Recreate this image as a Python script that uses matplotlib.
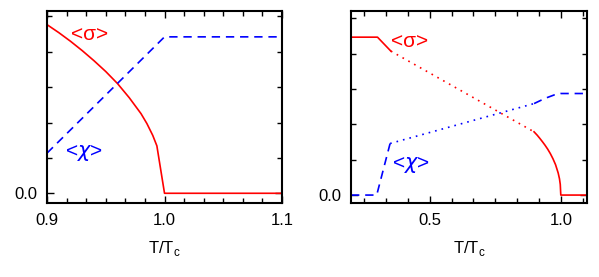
import matplotlib
matplotlib.use('Agg')
import matplotlib.pyplot as plt
from matplotlib.ticker import MultipleLocator, FixedLocator

plt.rcParams['font.family'] = ['Liberation Sans', 'DejaVu Sans']
plt.rcParams['mathtext.fontset'] = 'custom'
plt.rcParams['mathtext.rm'] = 'Liberation Sans'
plt.rcParams['mathtext.it'] = 'DejaVu Sans:italic'

RED = '#ff0000'
BLUE = '#0000ff'

# ---- left panel: near Tc ----
left_sigma_T = [0.9, 0.91, 0.92, 0.93, 0.94, 0.95, 0.96, 0.97, 0.98,
                0.985, 0.99, 0.9935, 1.0, 1.1]
left_sigma = [0.953, 0.908, 0.859, 0.806, 0.749, 0.688, 0.620, 0.540,
              0.450, 0.394, 0.327, 0.268, 0.0, 0.0]
left_chi_T = [0.9, 1.0, 1.1]
left_chi = [0.227, 0.884, 0.884]

# ---- right panel: full range ----
# sigma: solid plateau, dotted middle, solid near Tc
r_sigma_lo_T = [0.2, 0.301, 0.352]
r_sigma_lo = [0.894, 0.894, 0.815]
r_sigma_mid_T = [0.352, 0.898]
r_sigma_mid = [0.815, 0.358]
r_sigma_hi_T = [0.898, 0.91, 0.92, 0.93, 0.94, 0.95, 0.96, 0.97, 0.98,
                0.99, 0.995, 0.998, 1.0, 1.1]
r_sigma_hi = [0.358, 0.339, 0.321, 0.302, 0.282, 0.260, 0.235, 0.206,
              0.172, 0.125, 0.092, 0.060, 0.0, 0.0]
# chi: dashed low part, dotted middle, dashed near Tc
r_chi_lo_T = [0.2, 0.298, 0.349]
r_chi_lo = [0.0, 0.0, 0.292]
r_chi_mid_T = [0.349, 0.898]
r_chi_mid = [0.292, 0.518]
r_chi_hi_T = [0.898, 0.925, 0.948, 0.975, 1.0, 1.1]
r_chi_hi = [0.518, 0.537, 0.552, 0.567, 0.575, 0.575]

fig = plt.figure(figsize=(5.99, 2.77), dpi=100)
ax1 = fig.add_axes([0.0785, 0.2671, 0.3923, 0.6931])
ax2 = fig.add_axes([0.586, 0.2671, 0.394, 0.6931])

lw = 1.2
dash = (5, 3.5)
dot = (1, 3)
ax1.plot(left_sigma_T, left_sigma, color=RED, lw=lw)
ax1.plot(left_chi_T, left_chi, color=BLUE, lw=lw, dashes=dash)
ax1.text(0.9203, 0.897, '<σ>', color=RED, fontsize=15, ha='left', va='center')
ax1.text(0.9153, 0.227, r'<$\chi$>', color=BLUE, fontsize=15, ha='left', va='center')

ax2.plot(r_sigma_lo_T, r_sigma_lo, color=RED, lw=lw)
ax2.plot(r_sigma_mid_T, r_sigma_mid, color=RED, lw=lw, dashes=dot)
ax2.plot(r_sigma_hi_T, r_sigma_hi, color=RED, lw=lw)
ax2.plot(r_chi_lo_T, r_chi_lo, color=BLUE, lw=lw, dashes=dash)
ax2.plot(r_chi_mid_T, r_chi_mid, color=BLUE, lw=lw, dashes=dot)
ax2.plot(r_chi_hi_T, r_chi_hi, color=BLUE, lw=lw, dashes=dash)
ax2.text(0.353, 0.872, '<σ>', color=RED, fontsize=15, ha='left', va='center')
ax2.text(0.356, 0.169, r'<$\chi$>', color=BLUE, fontsize=15, ha='left', va='center')

ax1.set_xlim(0.9, 1.1)
ax1.set_ylim(-0.055, 1.03)
ax1.xaxis.set_major_locator(FixedLocator([0.9, 1.0, 1.1]))
ax1.xaxis.set_minor_locator(MultipleLocator(0.1 / 6))
ax1.set_xticklabels(['0.9', '1.0', '1.1'])

ax2.set_xlim(0.2, 1.1)
ax2.set_ylim(-0.045, 1.042)
ax2.xaxis.set_major_locator(FixedLocator([0.5, 1.0]))
ax2.xaxis.set_minor_locator(MultipleLocator(0.5 / 6))
ax2.set_xticklabels(['0.5', '1.0'])

for ax in (ax1, ax2):
    ax.yaxis.set_major_locator(FixedLocator([0.0]))
    ax.yaxis.set_minor_locator(MultipleLocator(0.2))
    ax.set_yticklabels(['0.0'])
    ax.tick_params(which='both', direction='in', top=True, right=True,
                   labelsize=12, width=1.0)
    ax.tick_params(which='major', length=5, pad=7)
    ax.tick_params(which='minor', length=3.5)
    for s in ax.spines.values():
        s.set_linewidth(1.5)
    ax.set_xlabel(r'T/T$_\mathregular{c}$', fontsize=12, labelpad=8)

fig.savefig('out.png', dpi=100)
